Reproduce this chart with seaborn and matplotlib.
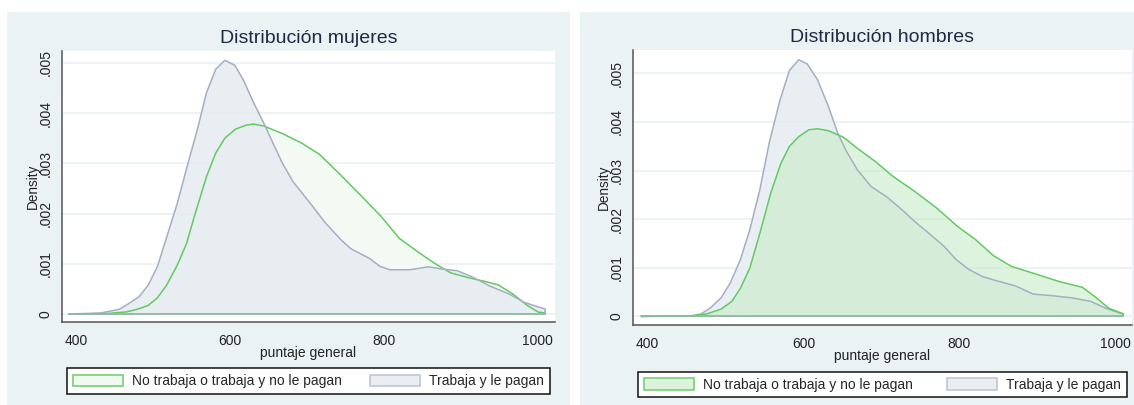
import matplotlib
matplotlib.use("Agg")
import matplotlib.pyplot as plt
from matplotlib.patches import Rectangle, Patch
import seaborn as sns
import pandas as pd

# ---------------- data ----------------
panel_titles = ["Distribución mujeres", "Distribución hombres"]
series_labels = ["No trabaja o trabaja y no le pagan", "Trabaja y le pagan"]
x_label = "puntaje general"
y_label = "Density"
x_ticks = [400, 600, 800, 1000]
y_ticks = [0, 0.001, 0.002, 0.003, 0.004, 0.005]
y_tick_labels = ["0", ".001", ".002", ".003", ".004", ".005"]

# Mujeres - Trabaja y le pagan
x_muj_pag = [390, 431, 455, 466, 481, 493, 505, 516, 531, 545, 557, 569, 581, 593,
             606, 617, 630, 644, 656, 668, 682, 694, 708, 723, 744, 757, 782, 795,
             808, 834, 858, 874, 896, 915, 939, 963, 982, 1001, 1010]
y_muj_pag = [0.0, 0.00002, 0.00009, 0.00019, 0.00034, 0.00057, 0.00094, 0.00147,
             0.0022, 0.0030, 0.00366, 0.0044, 0.00487, 0.00505, 0.00495, 0.00466,
             0.00422, 0.00379, 0.00339, 0.0030, 0.00263, 0.0024, 0.00213, 0.00183,
             0.00148, 0.0013, 0.0011, 0.00095, 0.00088, 0.00088, 0.00094, 0.0009,
             0.00086, 0.00074, 0.00055, 0.0004, 0.00024, 0.00014, 0.0001]
# Mujeres - No trabaja o trabaja y no le pagan
x_muj_nop = [390, 440, 464, 478, 493, 505, 517, 531, 543, 554, 569, 581, 593, 607,
             621, 630, 644, 668, 692, 716, 741, 772, 796, 820, 844, 867, 887, 911,
             934, 949, 968, 987, 1001, 1010]
y_muj_nop = [0.0, 0.00001, 0.00004, 0.00009, 0.00017, 0.00032, 0.00057, 0.00097,
             0.0014, 0.00198, 0.00273, 0.0032, 0.0035, 0.00368, 0.00376, 0.00378,
             0.00374, 0.00359, 0.00341, 0.00318, 0.00281, 0.00233, 0.00195, 0.00151,
             0.00124, 0.001, 0.00082, 0.00072, 0.00064, 0.00058, 0.0004, 0.00017,
             0.00004, 0.00002]
# Hombres - Trabaja y le pagan
x_hom_pag = [392, 457, 468, 480, 494, 506, 519, 531, 544, 556, 570, 582, 594, 605,
             618, 632, 644, 655, 669, 687, 706, 724, 743, 761, 780, 796, 812, 830,
             851, 872, 895, 918, 946, 969, 988, 1006, 1010]
y_hom_pag = [0.0, 0.00001, 0.00005, 0.00017, 0.00038, 0.00069, 0.00117, 0.00178,
             0.00261, 0.00357, 0.00446, 0.00506, 0.00528, 0.00519, 0.00487, 0.00432,
             0.00377, 0.0034, 0.00302, 0.00267, 0.00247, 0.00223, 0.00195, 0.00171,
             0.00145, 0.00117, 0.00097, 0.00082, 0.00072, 0.00063, 0.00046, 0.00043,
             0.00038, 0.00031, 0.00017, 0.00007, 0.00006]
# Hombres - No trabaja o trabaja y no le pagan
x_hom_nop = [392, 415, 452, 475, 494, 508, 519, 531, 544, 558, 571, 582, 594, 607,
             618, 632, 651, 669, 692, 715, 743, 771, 798, 821, 844, 867, 895, 928,
             958, 974, 992, 1008, 1010]
y_hom_nop = [0.0, 0.00001, 0.00001, 0.00005, 0.00015, 0.00031, 0.00058, 0.00099,
             0.00171, 0.00254, 0.00315, 0.0035, 0.0037, 0.00384, 0.00386, 0.00382,
             0.00369, 0.00346, 0.00319, 0.00288, 0.00257, 0.00223, 0.00185, 0.00158,
             0.00125, 0.00103, 0.00089, 0.00072, 0.0006, 0.00041, 0.00017, 0.00007,
             0.00005]

# ---------------- style ----------------
W, H = 1134, 405
BG = "#EAF2F3"
GRID = "#EAF2F3"
SPINE = "#555555"
TITLE_C = "#1E2A45"
GREEN_LINE = "#62CA62"
GRAY_LINE = "#A5AFC2"
GRAY_FILL = "#E6EBF1"
BASE_LINE = "#8DB8A0"

sns.set_style("white")
plt.rcParams["font.family"] = ["Liberation Sans", "DejaVu Sans"]

fig = plt.figure(figsize=(W / 100, H / 100), dpi=100)
fig.patch.set_facecolor("white")

# panel backgrounds (Stata style)
fig.patches.append(Rectangle((7.3 / W, 0), (570 - 7.3) / W, (H - 11.7) / H,
                             transform=fig.transFigure, facecolor=BG, edgecolor="none", zorder=-5))
fig.patches.append(Rectangle((580 / W, 0), (W - 580) / W, (H - 11.7) / H,
                             transform=fig.transFigure, facecolor=BG, edgecolor="none", zorder=-5))

panels = [
    dict(rect=(61.7, 50.7, 555.0, 322.3), xlim=(380.5, 1023.0), ylim=(-0.000165, 0.00524),
         leg=(66.7, 368.3, 550.0, 393.3),
         green=(x_muj_nop, y_muj_nop), gray=(x_muj_pag, y_muj_pag),
         green_fill="#F3FAF3", green_alpha=1.0, green_first=True, leg_green="#F0FAF0"),
    dict(rect=(633.3, 50.0, 1131.7, 325.0), xlim=(381.5, 1021.4), ylim=(-0.000175, 0.00548),
         leg=(638.3, 371.7, 1127.0, 397.3),
         green=(x_hom_nop, y_hom_nop), gray=(x_hom_pag, y_hom_pag),
         green_fill="#C8EBC8", green_alpha=0.6, green_first=False, leg_green="#DDF2DD"),
]

for i, p in enumerate(panels):
    l, t, r, b = p["rect"]
    ax = fig.add_axes([l / W, (H - b) / H, (r - l) / W, (b - t) / H])
    ax.set_facecolor("white")
    ax.set_xlim(*p["xlim"])
    ax.set_ylim(*p["ylim"])
    ax_w, ax_h = r - l, b - t

    gx, gy = p["green"]
    kx, ky = p["gray"]
    df_g = pd.DataFrame({"x": gx, "y": gy})
    df_k = pd.DataFrame({"x": kx, "y": ky})

    green_fill_z, gray_fill_z = (2, 3) if p["green_first"] else (3, 2)
    ax.fill_between(df_g["x"], df_g["y"], 0, facecolor=p["green_fill"],
                    alpha=p["green_alpha"], edgecolor="none", zorder=green_fill_z)
    ax.fill_between(df_k["x"], df_k["y"], 0, facecolor=GRAY_FILL, alpha=0.85,
                    edgecolor="none", zorder=gray_fill_z)
    green_line_z, gray_line_z = (4, 4.5) if p["green_first"] else (4.5, 4)
    sns.lineplot(data=df_g, x="x", y="y", ax=ax, color=GREEN_LINE, linewidth=1.1,
                 sort=False, estimator=None, zorder=green_line_z)
    ax.plot([gx[-1], gx[-1]], [gy[-1], 0], color=GREEN_LINE, lw=1.1, zorder=green_line_z)
    sns.lineplot(data=df_k, x="x", y="y", ax=ax, color=GRAY_LINE, linewidth=1.1,
                 sort=False, estimator=None, zorder=gray_line_z)
    ax.plot([kx[-1], kx[-1]], [ky[-1], 0], color=GRAY_LINE, lw=1.1, zorder=gray_line_z)
    ax.plot([min(gx[0], kx[0]), max(gx[-1], kx[-1])], [0, 0], color=BASE_LINE, lw=1.3, zorder=5)

    # grid
    for yt in y_ticks:
        ax.axhline(yt, color=GRID, lw=1.3, zorder=1)

    # axes styling
    for s in ["top", "right"]:
        ax.spines[s].set_visible(False)
    for s in ["left", "bottom"]:
        ax.spines[s].set_color(SPINE)
        ax.spines[s].set_linewidth(1.1)
    ax.set_xticks(x_ticks)
    ax.set_xticklabels([str(v) for v in x_ticks])
    ax.set_yticks(y_ticks)
    ax.set_yticklabels(y_tick_labels)
    ax.tick_params(axis="both", direction="out", length=3.8, width=1.0, color=SPINE,
                   labelsize=10, labelcolor="#222222")
    ax.tick_params(axis="x", pad=4.5)
    ax.tick_params(axis="y", pad=3.0)
    for lab in ax.get_yticklabels():
        lab.set_rotation(90)
        lab.set_va("center")
        lab.set_ha("right")
    ax.grid(False)

    ax.set_xlabel(x_label, fontsize=10, color="#222222")
    ax.xaxis.label.set_va("center")
    ax.xaxis.set_label_coords(0.5, -31.0 / ax_h)
    ax.set_ylabel(y_label, fontsize=9.8, color="#222222")
    ax.yaxis.label.set_va("center")
    ax.yaxis.set_label_coords(-29.0 / ax_w, 0.5)

    ax.text(0.5, 1 + 12.5 / ax_h, panel_titles[i], transform=ax.transAxes,
            ha="center", va="center", fontsize=14, color=TITLE_C)

    # legend
    ll, lt, lr, lb = p["leg"]
    handles = [
        Patch(facecolor=p["leg_green"], edgecolor="#7FD47F", linewidth=1.3),
        Patch(facecolor="#EAEEF3", edgecolor="#C3CAD6", linewidth=1.3),
    ]
    leg = ax.legend(handles, series_labels, loc="upper left",
                    bbox_to_anchor=(ll / W, (H - lb) / H, (lr - ll) / W, (lb - lt) / H),
                    bbox_transform=fig.transFigure, mode="expand", ncol=2,
                    borderaxespad=0, fontsize=10, handlelength=3.6, handleheight=0.9,
                    handletextpad=0.65, borderpad=0.42, fancybox=False, framealpha=1)
    leg.get_frame().set_edgecolor("#111111")
    leg.get_frame().set_linewidth(1.1)

fig.savefig("out.png", dpi=100, facecolor="white")
